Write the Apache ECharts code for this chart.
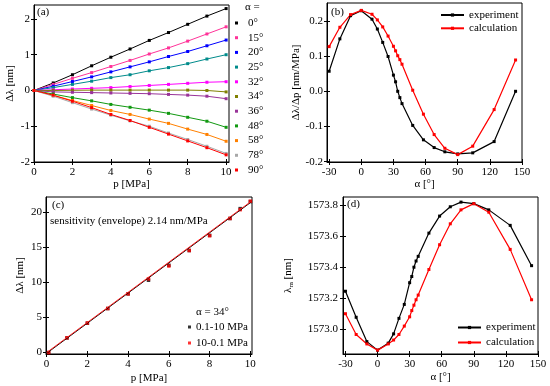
<!DOCTYPE html>
<html>
<head>
<meta charset="utf-8">
<script src="https://cdn.jsdelivr.net/npm/echarts@6/dist/echarts.min.js"></script>
<style>html,body{margin:0;padding:0;background:#fff}#c{width:550px;height:386px}</style>
</head>
<body>
<div id="c"></div>
<script>
// ---------- Panel (a) ----------
const pA = [0,1,2,3,4,5,6,7,8,9,10];
const anglesA = ['0°','15°','20°','25°','32°','34°','36°','48°','58°','78°','90°'];
const colorsA = ['#000000','#ff3399','#0000ff','#008b8b','#ff00ff','#808000','#993399','#119911','#ff8000','#a8a8a8','#ff0000'];
const a0  = [0,0.21,0.44,0.69,0.93,1.16,1.40,1.62,1.85,2.08,2.29];
const a15 = [0,0.17,0.34,0.50,0.67,0.84,1.02,1.19,1.38,1.58,1.78];
const a20 = [0,0.12,0.25,0.38,0.52,0.66,0.80,0.95,1.09,1.25,1.41];
const a25 = [0,0.08,0.17,0.26,0.36,0.44,0.55,0.64,0.75,0.88,1.00];
const a32 = [0,0.02,0.04,0.06,0.08,0.11,0.14,0.17,0.20,0.23,0.245];
const a34 = [0,0,0.005,0.01,0.01,0.01,0.01,0.01,0.01,0,-0.04];
const a36 = [0,-0.04,-0.05,-0.06,-0.07,-0.08,-0.09,-0.11,-0.13,-0.16,-0.23];
const a48 = [0,-0.10,-0.20,-0.29,-0.39,-0.47,-0.55,-0.64,-0.75,-0.86,-1.03];
const a58 = [0,-0.14,-0.28,-0.42,-0.56,-0.67,-0.80,-0.92,-1.08,-1.23,-1.42];
const a78 = [0,-0.16,-0.34,-0.52,-0.69,-0.85,-1.00,-1.19,-1.37,-1.56,-1.76];
const a90 = [0,-0.13,-0.30,-0.48,-0.67,-0.84,-1.03,-1.22,-1.41,-1.60,-1.80];
const seriesA = [a0,a15,a20,a25,a32,a34,a36,a48,a58,a78,a90];
const xTicksA = [0,2,4,6,8,10];
const yTicksA = [-2,-1,0,1,2];

// ---------- Panel (b) ----------
const angB = [-30,-20,-10,0,10,15,20,25,30,32,34,36,38,48,58,68,78,90,104,124,144];
const expB = [0.057,0.149,0.215,0.229,0.205,0.177,0.139,0.099,0.046,0.027,0.0,-0.018,-0.035,-0.097,-0.138,-0.160,-0.172,-0.178,-0.175,-0.143,0.0];
const calB = [0.127,0.182,0.218,0.230,0.219,0.203,0.183,0.157,0.128,0.115,0.101,0.090,0.077,0.003,-0.065,-0.123,-0.162,-0.180,-0.156,-0.052,0.089];
const xTicksB = [-30,0,30,60,90,120,150];
const yTicksB = [-0.2,-0.1,0,0.1,0.2];

// ---------- Panel (c) ----------
const pC = [0.1,1,2,3,4,5,6,7,8,9,9.5,10];
const upC = [0,2.08,4.17,6.26,8.34,10.28,12.4,14.5,16.65,19.05,20.45,21.45];
const downC = [0,2.1,4.2,6.26,8.34,10.47,12.3,14.5,16.6,19.05,20.3,21.5];
const fitP = [0,10];
const fitUp = [-0.1,21.3];
const fitDown = [0,21.4];
const xTicksC = [0,2,4,6,8,10];
const yTicksC = [0,5,10,15,20];

// ---------- Panel (d) ----------
const angD = [-30,-20,-10,0,10,15,20,25,30,32,34,36,38,48,58,68,78,90,104,124,144];
const expD = [1573.245,1573.077,1572.92,1572.865,1572.91,1572.97,1573.07,1573.16,1573.30,1573.34,1573.40,1573.44,1573.47,1573.62,1573.73,1573.79,1573.82,1573.81,1573.77,1573.67,1573.41];
const calD = [1573.10,1572.966,1572.905,1572.865,1572.905,1572.93,1572.966,1573.02,1573.08,1573.12,1573.155,1573.19,1573.22,1573.385,1573.545,1573.68,1573.77,1573.81,1573.755,1573.515,1573.19];
const xTicksD = [-30,0,30,60,90,120,150];
const yTicksD = [1573.0,1573.2,1573.4,1573.6,1573.8];

const FONT = 'Liberation Serif';
const zip = (xs, ys) => xs.map((x, i) => [x, ys[i]]);

const grids = [
  {left:34, top:5, width:195, height:157},
  {left:327, top:3, width:195, height:159},
  {left:46, top:197, width:206, height:157},
  {left:343, top:197, width:195, height:157}
].map(g => Object.assign(g, {show:true, borderColor:'#000', borderWidth:1, containLabel:false}));

function mainAxis(dim, gi, min, max, ticks, name, nameGap, fmt, labelMargin) {
  return {
    type:'value', gridIndex:gi, min:min, max:max,
    position: dim === 'x' ? 'bottom' : 'left',
    name:name, nameLocation:'middle', nameGap:nameGap,
    nameTextStyle:{fontFamily:FONT, fontSize:11, color:'#000',
      rich:{sub:{fontFamily:FONT, fontSize:7, color:'#000', verticalAlign:'bottom', padding:[6,0,0,0]}}},
    axisLine:{show:true, onZero:false, lineStyle:{color:'#000', width:1}},
    axisTick:{show:true, inside:false, length:3, customValues:ticks, lineStyle:{color:'#000'}},
    axisLabel:{show:true, customValues:ticks, margin:labelMargin, fontFamily:FONT, fontSize:11, color:'#000',
      formatter: fmt || (v => String(v))},
    splitLine:{show:false}
  };
}
function innerAxis(dim, gi, min, max, ticks) {
  return {
    type:'value', gridIndex:gi, min:min, max:max,
    position: dim === 'x' ? 'bottom' : 'left',
    axisLine:{show:false, onZero:false},
    axisTick:{show:true, inside:true, length:3, customValues:ticks, lineStyle:{color:'#000'}},
    axisLabel:{show:false},
    splitLine:{show:false}
  };
}

const f1 = v => v.toFixed(1);
const xAxes = [
  mainAxis('x',0,0,10.15,xTicksA,'p [MPa]',15,null,5),
  mainAxis('x',1,-32,150,xTicksB,'α [°]',15,null,5),
  mainAxis('x',2,-0.03,10.08,xTicksC,'p [MPa]',19,null,5),
  mainAxis('x',3,-32.3,150,xTicksD,'α [°]',18,null,5),
  innerAxis('x',0,0,10.15,xTicksA),
  innerAxis('x',1,-32,150,xTicksB),
  innerAxis('x',2,-0.03,10.08,xTicksC),
  innerAxis('x',3,-32.3,150,xTicksD)
];
const yAxes = [
  mainAxis('y',0,-2,2.39,yTicksA,'Δλ [nm]',18,null,4),
  mainAxis('y',1,-0.201,0.251,yTicksB,'Δλ/Δp [nm/MPa]',25,f1,4),
  mainAxis('y',2,-0.2,22.1,yTicksC,'Δλ [nm]',20,null,4),
  mainAxis('y',3,1572.84,1573.853,yTicksD,'λ{sub|m} [nm]',48,f1,5),
  innerAxis('y',0,-2,2.39,yTicksA),
  innerAxis('y',1,-0.201,0.251,yTicksB),
  innerAxis('y',2,-0.2,22.1,yTicksC),
  innerAxis('y',3,1572.84,1573.853,yTicksD)
];

const series = [];
seriesA.forEach((ys, i) => {
  series.push({
    type:'line', name:anglesA[i], xAxisIndex:0, yAxisIndex:0,
    data: zip(pA, ys), color: colorsA[i],
    symbol:'rect', symbolSize:3, showSymbol:true,
    lineStyle:{width:1, color:colorsA[i]}, itemStyle:{color:colorsA[i]}, z: 2
  });
});
series.push(
  {type:'line', name:'experiment', xAxisIndex:1, yAxisIndex:1, data:zip(angB, expB), color:'#000',
   symbol:'rect', symbolSize:3, lineStyle:{width:1.2,color:'#000'}, itemStyle:{color:'#000'}},
  {type:'line', name:'calculation', xAxisIndex:1, yAxisIndex:1, data:zip(angB, calB), color:'#ff0000',
   symbol:'rect', symbolSize:3, lineStyle:{width:1.2,color:'#ff0000'}, itemStyle:{color:'#ff0000'}},
  {type:'scatter', name:'0.1-10 MPa', xAxisIndex:2, yAxisIndex:2, data:zip(pC, upC), color:'#000',
   symbol:'rect', symbolSize:3.5, itemStyle:{color:'#000'}},
  {type:'line', name:'fitUp', xAxisIndex:2, yAxisIndex:2, data:zip(fitP, fitUp), showSymbol:false,
   lineStyle:{width:1,color:'#000'}},
  {type:'line', name:'fitDown', xAxisIndex:2, yAxisIndex:2, data:zip(fitP, fitDown), showSymbol:false,
   lineStyle:{width:1,color:'#ff2020'}},
  {type:'scatter', name:'10-0.1 MPa', xAxisIndex:2, yAxisIndex:2, data:zip(pC, downC), color:'#ff0000',
   symbol:'rect', symbolSize:3.5, itemStyle:{color:'#ff0000'}},
  {type:'line', name:'experiment', xAxisIndex:3, yAxisIndex:3, data:zip(angD, expD), color:'#000',
   symbol:'rect', symbolSize:3, lineStyle:{width:1.2,color:'#000'}, itemStyle:{color:'#000'}},
  {type:'line', name:'calculation', xAxisIndex:3, yAxisIndex:3, data:zip(angD, calD), color:'#ff0000',
   symbol:'rect', symbolSize:3, lineStyle:{width:1.2,color:'#ff0000'}, itemStyle:{color:'#ff0000'}}
);

const legText = {fontFamily:FONT, fontSize:11, color:'#000', lineHeight:12};
const option = {
  animation:false,
  backgroundColor:'#fff',
  grid: grids,
  xAxis: xAxes,
  yAxis: yAxes,
  series: series,
  legend: [
    {data:anglesA, orient:'vertical', left:235, top:17, padding:0, itemGap:2.7,
     icon:'rect', itemWidth:3, itemHeight:3, selectedMode:false,
     textStyle:Object.assign({}, legText, {padding:[0,0,0,5]})},
    {data:['experiment','calculation'], orient:'vertical', left:440, top:8.5, padding:0, itemGap:0.3,
     itemWidth:23, itemHeight:4, selectedMode:false, textStyle:Object.assign({}, legText, {lineHeight:13})},
    {data:['0.1-10 MPa','10-0.1 MPa'], orient:'vertical', left:188, top:320.5, padding:0, itemGap:3,
     icon:'rect', itemWidth:3, itemHeight:3, selectedMode:false, textStyle:Object.assign({}, legText, {lineHeight:13})},
    {data:['experiment','calculation'], orient:'vertical', left:457, top:321, padding:0, itemGap:2,
     itemWidth:23, itemHeight:4, selectedMode:false, textStyle:Object.assign({}, legText, {lineHeight:13})}
  ],
  graphic: [
    {type:'text', left:37, top:7, style:{text:'(a)', font:'11px "Liberation Serif"', fill:'#000'}},
    {type:'text', left:245, top:2, style:{text:'α =', font:'11px "Liberation Serif"', fill:'#000'}},
    {type:'text', left:331, top:7, style:{text:'(b)', font:'11px "Liberation Serif"', fill:'#000'}},
    {type:'text', left:52, top:200, style:{text:'(c)', font:'11px "Liberation Serif"', fill:'#000'}},
    {type:'text', left:50, top:216, style:{text:'sensitivity (envelope) 2.14 nm/MPa', font:'11px "Liberation Serif"', fill:'#000'}},
    {type:'text', left:196, top:307, style:{text:'α = 34°', font:'11px "Liberation Serif"', fill:'#000'}},
    {type:'text', left:347, top:199, style:{text:'(d)', font:'11px "Liberation Serif"', fill:'#000'}}
  ]
};
const chart = echarts.init(document.getElementById('c'), null, {renderer:'canvas'});
chart.setOption(option);
</script>
</body>
</html>
